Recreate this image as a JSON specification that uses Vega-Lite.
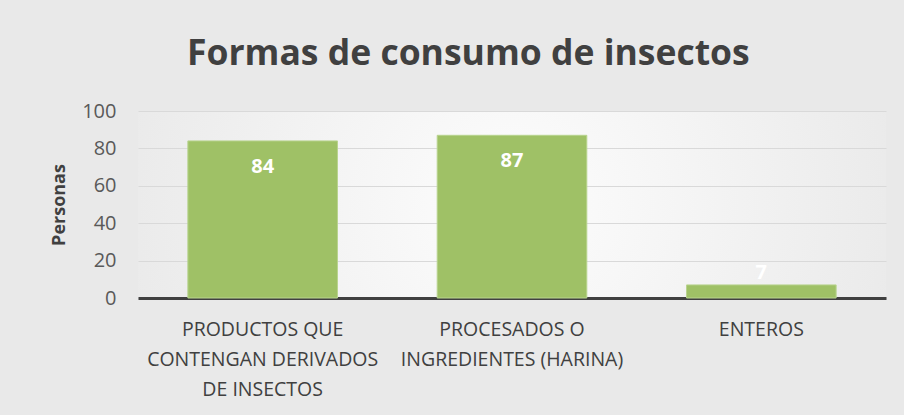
{
  "$schema": "https://vega.github.io/schema/vega-lite/v6.json",
  "width": 904,
  "height": 415,
  "autosize": {"type": "fit", "contains": "padding"},
  "padding": {"left": 50, "right": 18, "top": 36, "bottom": 16},
  "background": "#e9e9e9",
  "title": {
    "text": "Formas de consumo de insectos",
    "font": "Open Sans",
    "fontSize": 35.5,
    "fontWeight": "bold",
    "color": "#404040",
    "anchor": "middle",
    "frame": "bounds",
    "offset": 29
  },
  "config": {
    "view": {"stroke": null, "fill": {"gradient": "radial", "x1": 0.5, "y1": 0.5, "r1": 0, "x2": 0.5, "y2": 0.5, "r2": 0.75, "stops": [{"offset": 0, "color": "#fdfdfd"}, {"offset": 1, "color": "#e2e2e2"}]}},
    "font": "Open Sans"
  },
  "data": {
    "values": [
      {"forma": "PRODUCTOS QUE CONTENGAN DERIVADOS DE INSECTOS", "personas": 84},
      {"forma": "PROCESADOS O INGREDIENTES (HARINA)", "personas": 87},
      {"forma": "ENTEROS", "personas": 7}
    ]
  },
  "encoding": {
    "x": {
      "field": "forma",
      "type": "nominal",
      "sort": null,
      "scale": {"paddingInner": 0.4, "paddingOuter": 0.2},
      "axis": {
        "title": null,
        "labelAngle": 0,
        "labelFont": "Open Sans",
        "labelFontSize": 19.5,
        "labelColor": "#404040",
        "labelLineHeight": 30,
        "labelPadding": 22,
        "labelLimit": 400,
        "ticks": false,
        "domainColor": "#404040",
        "domainWidth": 3,
        "labelExpr": "datum.value == 'PRODUCTOS QUE CONTENGAN DERIVADOS DE INSECTOS' ? ['PRODUCTOS QUE', 'CONTENGAN DERIVADOS', 'DE INSECTOS'] : datum.value == 'PROCESADOS O INGREDIENTES (HARINA)' ? ['PROCESADOS O', 'INGREDIENTES (HARINA)'] : datum.value"
      }
    },
    "y": {
      "field": "personas",
      "type": "quantitative",
      "scale": {"domain": [0, 100]},
      "axis": {
        "title": "Personas",
        "titleFont": "Open Sans",
        "titleFontSize": 18,
        "titleFontWeight": "bold",
        "titleColor": "#404040",
        "titlePadding": 13,
        "values": [0, 20, 40, 60, 80, 100],
        "labelFont": "Open Sans",
        "labelFontSize": 20,
        "labelColor": "#595959",
        "labelPadding": 22,
        "ticks": false,
        "domain": false,
        "gridColor": "#d9d9d9",
        "gridWidth": 1
      }
    }
  },
  "layer": [
    {
      "mark": {"type": "bar", "color": "#9fc166", "stroke": "#b8d48e", "strokeWidth": 1}
    },
    {
      "transform": [{"filter": "datum.personas >= 20"}],
      "mark": {"type": "text", "color": "white", "fontWeight": "bold", "fontSize": 20, "font": "Open Sans", "baseline": "middle", "dy": 26},
      "encoding": {"text": {"field": "personas", "type": "quantitative"}}
    },
    {
      "transform": [{"filter": "datum.personas < 20"}],
      "mark": {"type": "text", "color": "white", "fontWeight": "bold", "fontSize": 20, "font": "Open Sans", "baseline": "middle", "dy": -12},
      "encoding": {"text": {"field": "personas", "type": "quantitative"}}
    }
  ]
}
